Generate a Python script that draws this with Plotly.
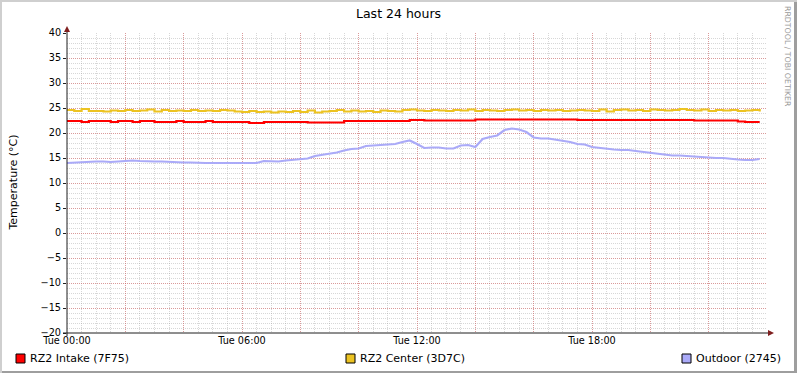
import plotly.graph_objects as go

# ---------------- data ----------------
title_text = "Last 24 hours"
y_title = "Temperature (°C)"
watermark = "RRDTOOL / TOBI OETIKER"

x_tick_hours = [0, 6, 12, 18]
x_tick_labels = ["Tue 00:00", "Tue 06:00", "Tue 12:00", "Tue 18:00"]
y_tick_values = [-20, -15, -10, -5, 0, 5, 10, 15, 20, 25, 30, 35, 40]

series_names = ["RZ2 Intake (7F75)", "RZ2 Center (3D7C)", "Outdoor (2745)"]
series_colors = ["#FF0000", "#ECC322", "#AAAAF8"]

# sample times: every 15 minutes (hours since Tue 00:00)
hours = [i * 0.25 for i in range(96)]

intake = [22.4, 22.4, 22.2, 22.4, 22.4, 22.4, 22.2, 22.4, 22.4, 22.2, 22.4, 22.4,
          22.2, 22.2, 22.2, 22.4, 22.2, 22.2, 22.2, 22.4, 22.2, 22.2, 22.2, 22.2,
          22.2, 22.0, 22.0, 22.2, 22.2, 22.2, 22.2, 22.2, 22.2, 22.1, 22.1, 22.1,
          22.1, 22.1, 22.4, 22.4, 22.4, 22.4, 22.4, 22.4, 22.4, 22.4, 22.4, 22.6,
          22.6, 22.5, 22.5, 22.5, 22.5, 22.5, 22.5, 22.5, 22.7, 22.7, 22.7, 22.7,
          22.7, 22.7, 22.7, 22.7, 22.7, 22.7, 22.7, 22.7, 22.7, 22.7, 22.6, 22.6,
          22.6, 22.6, 22.6, 22.6, 22.6, 22.6, 22.6, 22.6, 22.6, 22.6, 22.6, 22.6,
          22.6, 22.6, 22.5, 22.5, 22.5, 22.5, 22.5, 22.5, 22.3, 22.2, 22.2, 22.2]

center = [24.6, 24.4, 24.8, 24.4, 24.4, 24.3, 24.5, 24.4, 24.6, 24.4, 24.5, 24.7,
          24.3, 24.6, 24.4, 24.5, 24.4, 24.6, 24.4, 24.5, 24.4, 24.6, 24.5, 24.3,
          24.2, 24.4, 24.2, 24.3, 24.1, 24.3, 24.2, 24.4, 24.2, 24.5, 24.1, 24.3,
          24.4, 24.6, 24.3, 24.5, 24.3, 24.4, 24.2, 24.5, 24.4, 24.3, 24.6, 24.7,
          24.5, 24.4, 24.6, 24.5, 24.4, 24.6, 24.5, 24.7, 24.4, 24.6, 24.5, 24.4,
          24.6, 24.7, 24.5, 24.6, 24.4, 24.6, 24.5, 24.6, 24.4, 24.5, 24.6, 24.5,
          24.4, 24.7, 24.3, 24.6, 24.7, 24.5, 24.6, 24.4, 24.7, 24.6, 24.5, 24.6,
          24.8, 24.6, 24.5, 24.7, 24.4, 24.6, 24.5, 24.6, 24.4, 24.5, 24.6, 24.3]

outdoor = [14.0, 14.1, 14.1, 14.2, 14.3, 14.3, 14.2, 14.3, 14.4, 14.5, 14.4, 14.3,
           14.3, 14.3, 14.2, 14.1, 14.1, 14.1, 14.0, 14.0, 14.0, 14.0, 14.0, 14.0,
           14.0, 14.0, 14.0, 14.4, 14.3, 14.3, 14.5, 14.6, 14.8, 14.9, 15.4, 15.6,
           15.9, 16.1, 16.5, 16.8, 16.9, 17.4, 17.5, 17.6, 17.7, 17.8, 18.2, 18.5,
           17.8, 17.0, 17.1, 17.1, 16.9, 16.9, 17.5, 17.6, 17.2, 18.8, 19.2, 19.5,
           20.6, 20.9, 20.7, 20.2, 19.1, 18.9, 18.9, 18.7, 18.4, 18.2, 17.8, 17.7,
           17.2, 17.0, 16.8, 16.7, 16.6, 16.6, 16.4, 16.2, 16.1, 15.9, 15.6, 15.5,
           15.5, 15.4, 15.3, 15.1, 15.0, 15.0, 15.0, 14.8, 14.7, 14.6, 14.6, 14.8]

series_values = [intake, center, outdoor]
series_shapes = ["hv", "hv", "linear"]

# ---------------- figure geometry ----------------
W, H = 797, 373
L, R, T, B = 67, 30, 33, 40
PW, PH = W - L - R, H - T - B
FONT = "DejaVu Sans"


def px(x):
    return (x - L) / PW


def py(y):
    return (H - B - y) / PH


fig = go.Figure()
for name, vals, col, shp in zip(series_names, series_values, series_colors, series_shapes):
    fig.add_trace(go.Scatter(x=hours, y=vals, mode="lines", name=name,
                             line=dict(color=col, width=2.2, shape=shp),
                             showlegend=False, hoverinfo="skip"))

grid_minor = "rgba(150,150,150,0.38)"
grid_major = "rgba(222,79,79,0.45)"

major_x = list(range(0, 24, 2))
label_map = dict(zip(x_tick_hours, x_tick_labels))
major_x_text = [label_map.get(h, "") for h in major_x]

fig.update_xaxes(range=[0, 24], tickvals=major_x, ticktext=major_x_text,
                 showgrid=True, gridcolor=grid_major, griddash="1px,1px", gridwidth=1,
                 ticks="", ticklen=0,
                 minor=dict(dtick=0.5, showgrid=True, gridcolor=grid_minor,
                            griddash="1px,1px", gridwidth=1),
                 showline=False, zeroline=False,
                 tickfont=dict(family=FONT, size=9.7, color="#000"),
                 fixedrange=True)
fig.update_yaxes(range=[-20, 40], tickvals=y_tick_values,
                 showgrid=True, gridcolor=grid_major, griddash="1px,1px", gridwidth=1,
                 ticks="outside", ticklen=3, tickcolor="#1F1F1F",
                 minor=dict(dtick=1, showgrid=True, gridcolor=grid_minor,
                            griddash="1px,1px", gridwidth=1),
                 showline=False, zeroline=False,
                 tickfont=dict(family=FONT, size=9.7, color="#000"),
                 fixedrange=True)

shapes = []
# axes lines
shapes.append(dict(type="line", xref="paper", yref="paper", x0=px(67), x1=px(67),
                   y0=py(336), y1=py(29), line=dict(color="#1F1F1F", width=1)))
shapes.append(dict(type="line", xref="paper", yref="paper", x0=px(63), x1=px(770),
                   y0=py(333), y1=py(333), line=dict(color="#1F1F1F", width=1)))
# arrows
shapes.append(dict(type="path", xref="paper", yref="paper",
                   path=f"M {px(64)},{py(32)} L {px(70)},{py(32)} L {px(67)},{py(26)} Z",
                   fillcolor="#7F1F1F", line=dict(width=0)))
shapes.append(dict(type="path", xref="paper", yref="paper",
                   path=f"M {px(768)},{py(330)} L {px(768)},{py(336)} L {px(774)},{py(333)} Z",
                   fillcolor="#7F1F1F", line=dict(width=0)))
# 3D border
shapes.append(dict(type="rect", xref="paper", yref="paper", x0=px(0), x1=px(W), y0=py(0), y1=py(2),
                   fillcolor="#CFCFCF", line=dict(width=0)))
shapes.append(dict(type="rect", xref="paper", yref="paper", x0=px(0), x1=px(2), y0=py(0), y1=py(H),
                   fillcolor="#CFCFCF", line=dict(width=0)))
shapes.append(dict(type="rect", xref="paper", yref="paper", x0=px(2), x1=px(W), y0=py(H - 2), y1=py(H),
                   fillcolor="#9E9E9E", line=dict(width=0)))
shapes.append(dict(type="rect", xref="paper", yref="paper", x0=px(W - 3), x1=px(W), y0=py(2), y1=py(H),
                   fillcolor="#9E9E9E", line=dict(width=0)))

annotations = []
# legend
legend_x = [16, 346, 682]
for lx, name, col in zip(legend_x, series_names, series_colors):
    shapes.append(dict(type="rect", xref="paper", yref="paper",
                       x0=px(lx), x1=px(lx + 9), y0=py(354), y1=py(363),
                       fillcolor=col, line=dict(color="#000000", width=1)))
    annotations.append(dict(text=name, xref="paper", yref="paper", x=px(lx + 12), y=py(358.5),
                            xanchor="left", yanchor="middle", showarrow=False,
                            font=dict(family=FONT, size=11, color="#000")))

annotations.append(dict(text=title_text, xref="paper", yref="paper", x=px(398.5), y=py(13.5),
                        xanchor="center", yanchor="middle", showarrow=False,
                        font=dict(family=FONT, size=12.5, color="#000")))
annotations.append(dict(text=y_title, xref="paper", yref="paper", x=px(12.5), y=py(183),
                        xanchor="center", yanchor="middle", showarrow=False, textangle=-90,
                        font=dict(family=FONT, size=11, color="#000")))
annotations.append(dict(text=watermark, xref="paper", yref="paper", x=px(788), y=py(56),
                        xanchor="center", yanchor="middle", showarrow=False, textangle=90,
                        font=dict(family=FONT, size=7.8, color="#9A9A9A")))

fig.update_layout(width=W, height=H, margin=dict(l=L, r=R, t=T, b=B, pad=0),
                  paper_bgcolor="#FFFFFF", plot_bgcolor="#FFFFFF",
                  shapes=shapes, annotations=annotations, showlegend=False)

fig.write_html("out.html", config={"displayModeBar": False},
               post_script="document.body.style.margin='0';document.body.style.padding='0';")
